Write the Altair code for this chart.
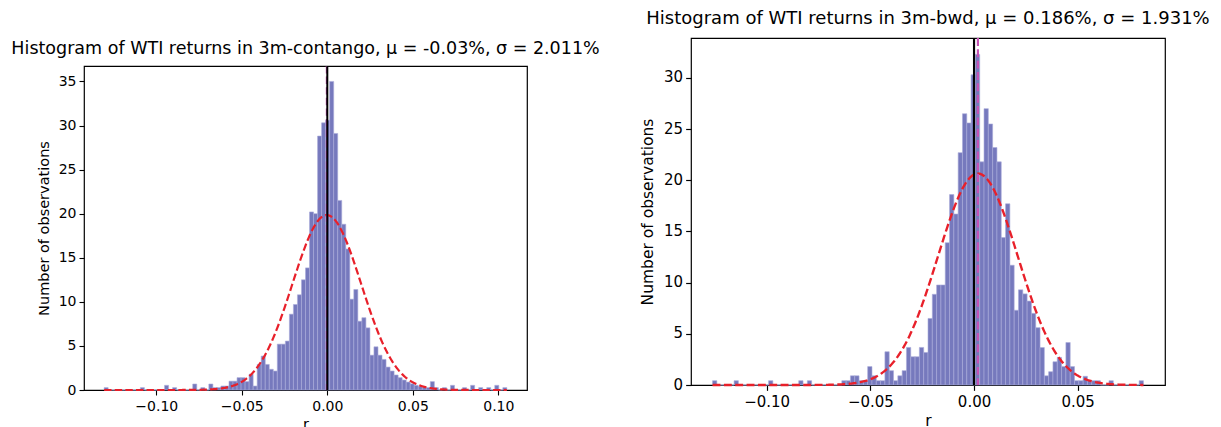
import altair as alt
import pandas as pd

FONT = "DejaVu Sans"
BAR_FILL = "#7679bd"
BAR_EDGE = "#a9abda"
RED = "#e8202a"
MEAN_COLOR = "#c552b5"

# ---------------- left panel: 3m-contango ----------------
L_TITLE = "Histogram of WTI returns in 3m-contango, μ = -0.03%, σ = 2.011%"
L_BIN_START = -0.1305
L_BIN_WIDTH = 0.002355
L_DENSITY = [
    0.27, 0, 0, 0, 0, 0, 0, 0, 0, 0.27,
    0, 0, 0, 0, 0, 0.53, 0, 0.27, 0, 0,
    0, 0, 0.68, 0, 0.27, 0, 0.68, 0.27, 0.27, 0.45,
    0.45, 1.0, 1.0, 1.4, 1.4, 0.95, 1.8, 0.45, 2.9, 3.85,
    2.9, 2.35, 2.15, 5.2, 5.2, 5.55, 8.6, 9.7, 10.8, 12.5,
    13.85, 20.2, 20.0, 28.8, 30.3, 30.6, 35.0, 29.1, 21.5, 18.8,
    16.0, 10.3, 11.4, 7.8, 8.2, 7.05, 3.95, 4.9, 3.95, 3.47,
    2.6, 2.15, 1.7, 1.4, 1.13, 0.9, 0.7, 0.53, 0.4, 0.27,
    0.27, 0.95, 0.27, 0, 0.27, 0, 0.53, 0, 0, 0.27,
    0, 0.53, 0, 0.27, 0, 0.27, 0, 0.53, 0, 0.27,
]
L_MU = -0.0003
L_SIGMA = 0.02011
L_XDOMAIN = [-0.14228, 0.11678]
L_YDOMAIN = [0, 36.75]
L_XTICKS = [-0.10, -0.05, 0.0, 0.05, 0.10]
L_YTICKS = [0, 5, 10, 15, 20, 25, 30, 35]

# ---------------- right panel: 3m-bwd ----------------
R_TITLE = "Histogram of WTI returns in 3m-bwd, μ = 0.186%, σ = 1.931%"
R_BIN_START = -0.1261
R_BIN_WIDTH = 0.002078
R_DENSITY = [
    0.42, 0, 0, 0, 0, 0.42, 0, 0, 0, 0,
    0, 0, 0, 0.42, 0, 0, 0, 0, 0, 0,
    0.42, 0, 0.42, 0, 0, 0, 0, 0, 0, 0,
    0.42, 0.42, 0.9, 0.9, 0.42, 0.42, 1.8, 0.9, 0.42, 0.42,
    3.25, 1.4, 0.42, 0.9, 1.4, 3.67, 2.76, 2.76, 3.67, 3.18,
    6.5, 8.86, 9.77, 9.77, 13.9, 18.6, 16.7, 22.7, 26.5, 25.6,
    30.3, 32.3, 21.8, 27.0, 25.5, 23.2, 21.8, 14.4, 17.7, 11.7,
    7.3, 9.3, 8.9, 8.2, 7.0, 5.6, 3.66, 0.9, 1.3, 2.27,
    2.7, 1.8, 4.15, 1.8, 0.42, 0.42, 0.85, 0.42, 0.42, 0.42,
    0, 0, 0.42, 0, 0, 0, 0, 0, 0, 0.42,
]
R_MU = 0.00186
R_SIGMA = 0.01931
R_XDOMAIN = [-0.13649, 0.09209]
R_YDOMAIN = [0, 33.9]
R_XTICKS = [-0.10, -0.05, 0.0, 0.05]
R_YTICKS = [0, 5, 10, 15, 20, 25, 30]


def panel(title, start, bw, dens, mu, sigma, xdom, ydom, xticks, yticks,
          w, h, k, title_size, title_offset):
    n = len(dens)
    df = pd.DataFrame({
        "x0": [start + i * bw for i in range(n)],
        "x1": [start + (i + 1) * bw for i in range(n)],
        "density": dens,
    })
    xs = alt.Scale(domain=xdom, nice=False, zero=False)
    ys = alt.Scale(domain=ydom, nice=False, zero=False)
    common = dict(
        labelFontSize=14 * k, titleFontSize=14.5 * k, tickSize=5 * k,
        tickWidth=1.1 * k,
    )
    xax = alt.Axis(values=xticks, format=".2f", title="r",
                   labelPadding=4 * k, titlePadding=4 * k, **common)
    yax = alt.Axis(values=yticks, format="d", title="Number of observations",
                   labelPadding=3 * k, titlePadding=7 * k, **common)
    dash = [7.4 * k, 3.2 * k]

    bars = alt.Chart(df).mark_rect(
        fill=BAR_FILL, stroke=BAR_EDGE, strokeWidth=0.6
    ).encode(
        x=alt.X("x0:Q", scale=xs, axis=xax),
        x2="x1:Q",
        y=alt.Y("density:Q", scale=ys, axis=yax),
        y2=alt.datum(0),
    )

    end = start + n * bw
    curve = alt.Chart(
        alt.sequence(start, end + bw / 10, (end - start) / 400, as_="x")
    ).transform_calculate(
        pdf=f"densityNormal(datum.x, {mu}, {sigma})"
    ).mark_line(
        color=RED, strokeDash=dash, strokeWidth=2.2 * k
    ).encode(
        x=alt.X("x:Q", scale=xs, axis=xax),
        y=alt.Y("pdf:Q", scale=ys, axis=yax),
    )

    mean_line = alt.Chart(pd.DataFrame({"m": [mu]})).mark_rule(
        color=MEAN_COLOR, strokeDash=dash, strokeWidth=2 * k
    ).encode(x=alt.X("m:Q", scale=xs, axis=xax))

    zero_line = alt.Chart(pd.DataFrame({"z": [0.0]})).mark_rule(
        color="black", strokeWidth=2 * k
    ).encode(x=alt.X("z:Q", scale=xs, axis=xax))

    return alt.layer(bars, curve, mean_line, zero_line).properties(
        width=w, height=h,
        title=alt.TitleParams(text=title, fontSize=title_size, offset=title_offset),
    )


left = panel(L_TITLE, L_BIN_START, L_BIN_WIDTH, L_DENSITY, L_MU, L_SIGMA,
             L_XDOMAIN, L_YDOMAIN, L_XTICKS, L_YTICKS, 443, 324, 1.0, 17.5, 8)
right = panel(R_TITLE, R_BIN_START, R_BIN_WIDTH, R_DENSITY, R_MU, R_SIGMA,
              R_XDOMAIN, R_YDOMAIN, R_XTICKS, R_YTICKS, 474, 347, 1.07, 18.0, 9.3)

# invisible strip above the left panel so that it sits lower than the right one
spacer = alt.Chart(pd.DataFrame({"a": [0]})).mark_rect(opacity=0).encode(
    x=alt.value(0), x2=alt.value(1), y=alt.value(0), y2=alt.value(1)
).properties(width=443, height=1,
             view=alt.ViewBackground(stroke="transparent"))

left_col = alt.vconcat(spacer, left, spacing=-2)

chart = alt.hconcat(left_col, right, spacing=39).properties(
    padding={"left": 2, "top": 1, "right": 0, "bottom": 0}
).configure_view(
    stroke="black", strokeWidth=1.2
).configure_axis(
    grid=False,
    domain=False,
    tickColor="black",
    labelColor="black",
    labelFont=FONT,
    titleColor="black",
    titleFont=FONT,
    titleFontWeight="normal",
    labelFlush=False,
).configure_title(
    font=FONT,
    fontWeight="normal",
    color="black",
    anchor="middle",
)

chart.save("out.html", embed_options={"renderer": "svg", "actions": False})
